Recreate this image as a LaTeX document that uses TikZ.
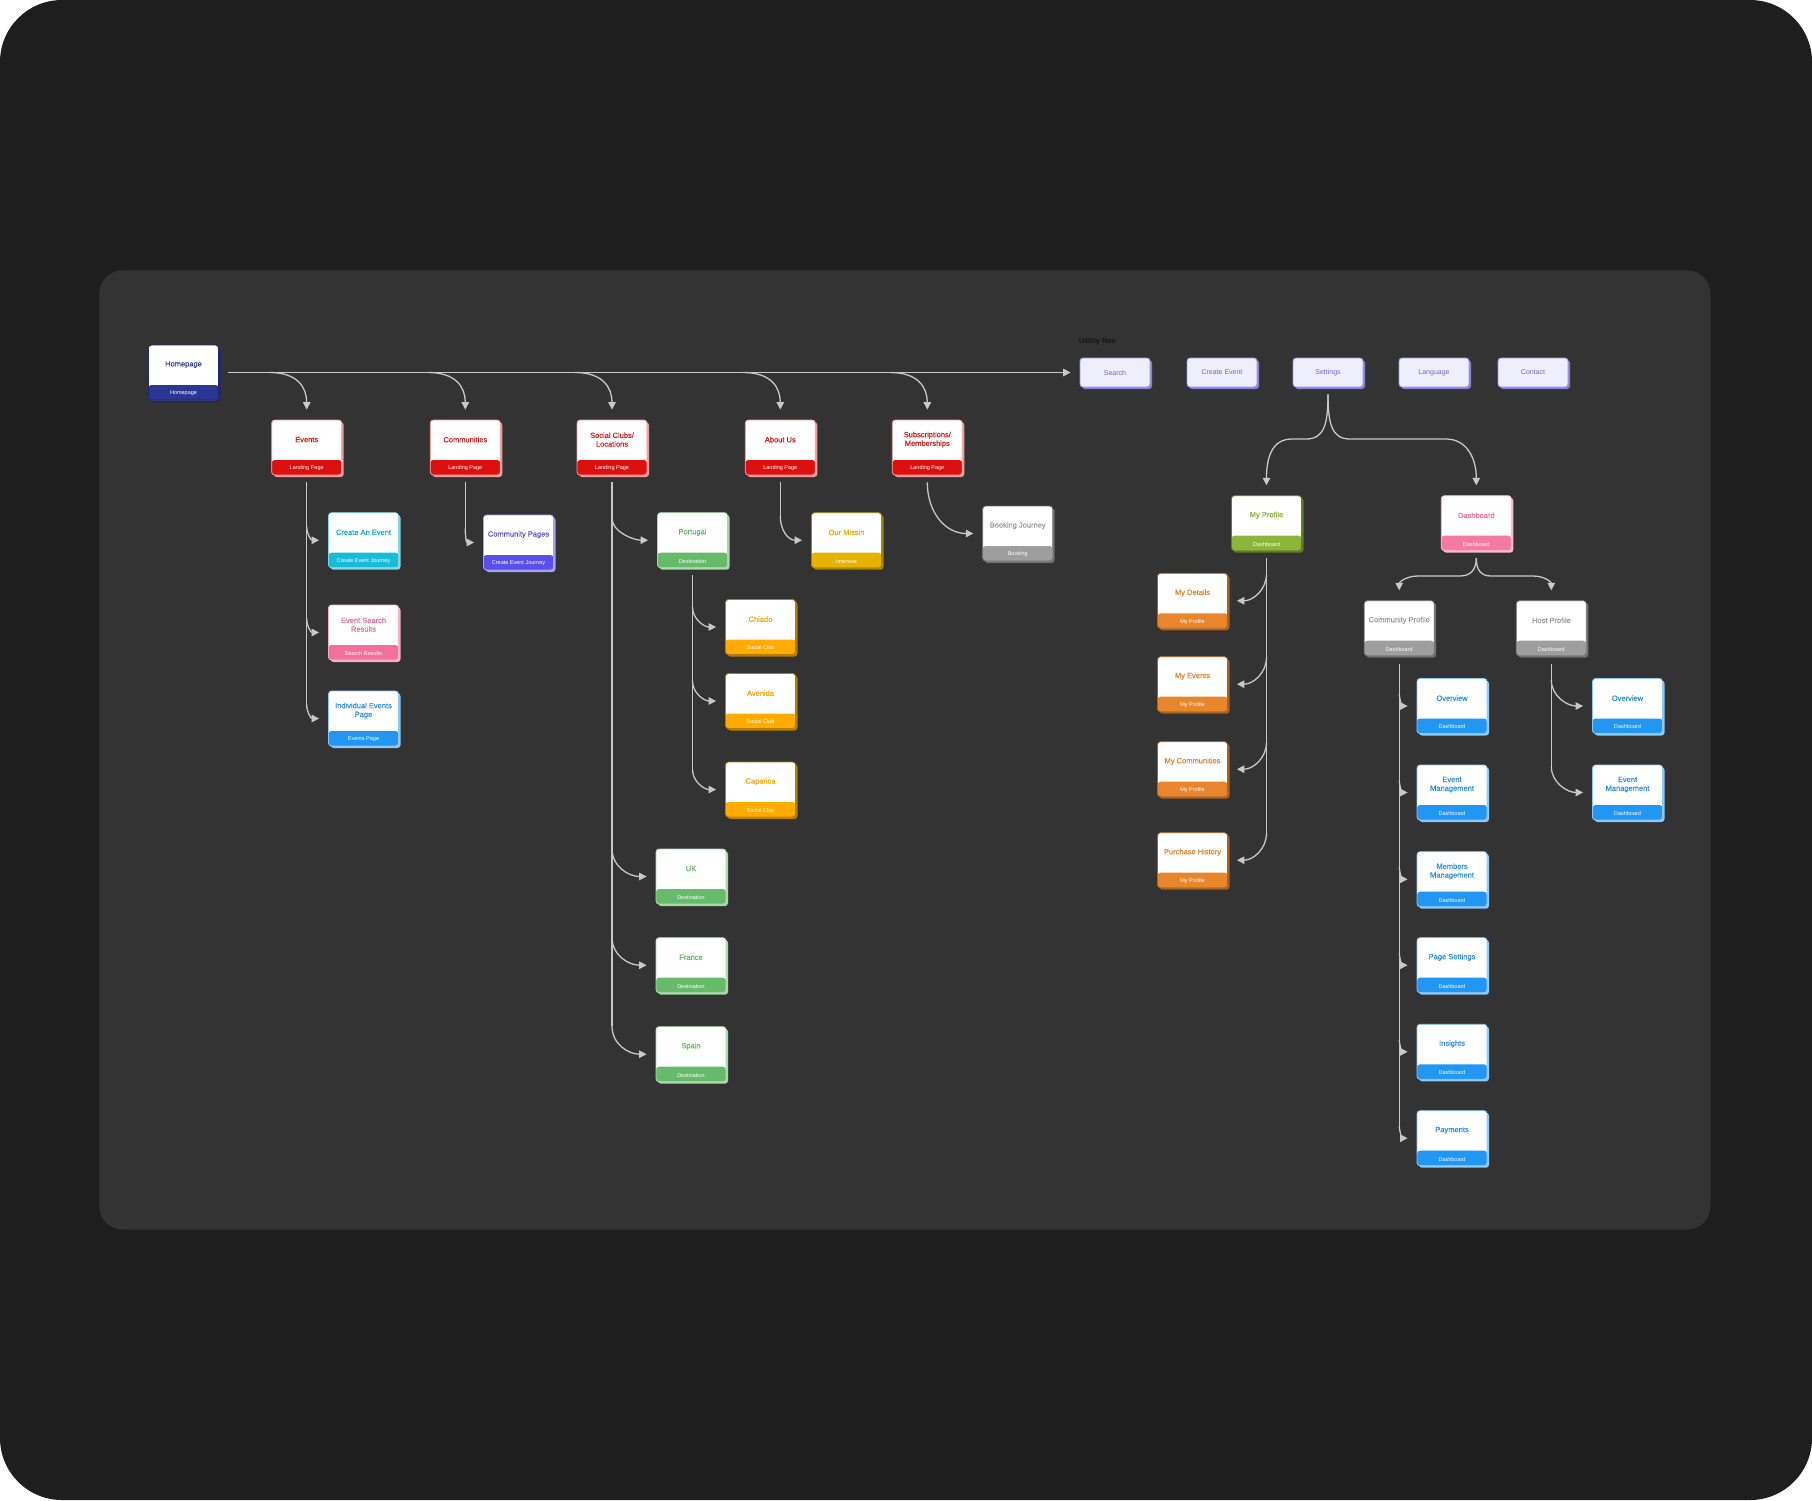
\documentclass[tikz,border=0pt]{standalone}
\usepackage{fontspec}
\setmainfont{Liberation Sans}
\newfontfamily\medfont[FakeBold=0.2]{Liberation Sans}
\usetikzlibrary{arrows.meta,shadows}
\definecolor{outerC}{HTML}{1E1E1E}
\definecolor{panelC}{HTML}{333333}
\definecolor{connC}{HTML}{C8C8C8}
% home
\definecolor{hmB}{HTML}{2B3592}\definecolor{hmT}{HTML}{2F3A8A}\definecolor{hmS}{HTML}{1E2870}
% red
\definecolor{rdB}{HTML}{DD1010}\definecolor{rdT}{HTML}{D01818}\definecolor{rdS}{HTML}{F29A9A}
% cyan
\definecolor{cyB}{HTML}{18BCD6}\definecolor{cyT}{HTML}{16A8C8}\definecolor{cyS}{HTML}{80D8E6}
% pink
\definecolor{pkB}{HTML}{F2709A}\definecolor{pkT}{HTML}{EE6A96}\definecolor{pkS}{HTML}{F7B0C8}
% blue
\definecolor{blB}{HTML}{2196F3}\definecolor{blT}{HTML}{2A8DE0}\definecolor{blS}{HTML}{8CC8F8}
% purple
\definecolor{puB}{HTML}{5A4FEA}\definecolor{puT}{HTML}{5B4FD8}\definecolor{puS}{HTML}{A7A0F0}
% green
\definecolor{grB}{HTML}{66BB6A}\definecolor{grT}{HTML}{5CB860}\definecolor{grS}{HTML}{A8D8AA}
% gold
\definecolor{gdB}{HTML}{E6B400}\definecolor{gdT}{HTML}{E0B000}\definecolor{gdS}{HTML}{A88400}
% amber
\definecolor{amB}{HTML}{FFAB00}\definecolor{amT}{HTML}{F5A500}\definecolor{amS}{HTML}{B87C00}
% gray
\definecolor{gyB}{HTML}{9E9E9E}\definecolor{gyT}{HTML}{9A9A9A}\definecolor{gyS}{HTML}{707070}
% olive
\definecolor{olB}{HTML}{8DB53A}\definecolor{olT}{HTML}{8CB03A}\definecolor{olS}{HTML}{607D20}
% dashboard pink
\definecolor{dpB}{HTML}{F47AA3}\definecolor{dpT}{HTML}{EE6C9A}\definecolor{dpS}{HTML}{F9B8CF}
% orange
\definecolor{orB}{HTML}{E8862E}\definecolor{orT}{HTML}{E0822C}\definecolor{orS}{HTML}{B0601A}
% utility
\definecolor{utF}{HTML}{EEEEFC}\definecolor{utD}{HTML}{9D95EA}\definecolor{utS}{HTML}{8A80DC}\definecolor{utT}{HTML}{6C64C8}
\definecolor{navT}{HTML}{151515}

\tikzset{
  conn/.style={draw=connC, line width=1.3pt, -{Triangle[length=7.5pt,width=7.5pt]}},
  trunk/.style={draw=connC, line width=1.3pt},
  pgbox/.style={rectangle, rounded corners=3pt, minimum width=70pt, minimum height=55pt,
    inner sep=0pt, fill=white, draw=#1S, line width=0.8pt,
    general shadow={shadow xshift=2pt, shadow yshift=-2pt, fill=#1S},
    path picture={\fill[#1B] ([yshift=15pt]path picture bounding box.south west) rectangle (path picture bounding box.south east);}},
  ttl/.style={text=#1T, font=\medfont\fontsize{7.5}{8.7}\selectfont, align=center, inner sep=0pt},
  bnd/.style={text=white, font=\fontsize{5.5}{6}\selectfont, inner sep=0pt},
  utl/.style={rectangle, rounded corners=3pt, minimum width=70pt, minimum height=29pt,
    fill=utF, draw=utD, line width=0.8pt,
    general shadow={shadow xshift=2pt, shadow yshift=-2pt, fill=utS},
    text=utT, font=\fontsize{7}{8}\selectfont},
  navlbl/.style={text=navT, font=\bfseries\fontsize{7.5}{8}\selectfont, inner sep=0pt, anchor=west},
}

\newcommand\pbox[6]{%
  \node[pgbox=#6] (#1) at (#2,#3+27.5) {};
  \node[ttl=#6] (#1-t) at ([yshift=-20pt]#1.north) {#4};
  \node[bnd] (#1-b) at ([yshift=7pt]#1.south) {#5};
}
% branch to the right: trunk node anchor, target node, rise, control
\newcommand\brR[4]{\draw[conn] ([yshift=#3pt]#1 |- #2.west) .. controls +(0,#4) and +(-#4,0) .. ([xshift=-9pt]#2.west);}
\newcommand\brL[4]{\draw[conn] ([yshift=#3pt]#1 |- #2.east) .. controls +(0,#4) and +(#4,0) .. ([xshift=9pt]#2.east);}
\newcommand\brD[3]{\draw[conn] (#1) .. controls +(#3,0) and +(0,-22) .. ([yshift=10pt]#2.north);}

\begin{document}
\begin{tikzpicture}[x=1pt,y=-1pt]
\useasboundingbox (0,0) rectangle (1812,1500);
\fill[white] (0,0) rectangle (1812,1500);
\fill[outerC, rounded corners=62pt] (0,0) rectangle (1812,1500);
\fill[panelC, rounded corners=23pt] (99.4,270.4) rectangle (1710.3,1229.5);

% ---------- nodes ----------
\pbox{home}{183.5}{345}{Homepage}{Homepage}{hm}
\pbox{events}{306.7}{420}{Events}{Landing Page}{rd}
\pbox{comm}{465.3}{420}{Communities}{Landing Page}{rd}
\pbox{social}{612}{420}{Social Clubs/\\Locations}{Landing Page}{rd}
\pbox{about}{780.3}{420}{About Us}{Landing Page}{rd}
\pbox{subs}{927.3}{420}{Subscriptions/\\Memberships}{Landing Page}{rd}
\pbox{cae}{363.5}{512.7}{Create An Event}{Create Event Journey}{cy}
\pbox{esr}{363.5}{605}{Event Search\\Results}{Search Results}{pk}
\pbox{iep}{363.5}{691}{Individual Events\\Page}{Events Page}{bl}
\pbox{cpages}{518.5}{515}{Community Pages}{Create Event Journey}{pu}
\pbox{portugal}{692.5}{512.7}{Portugal}{Destination}{gr}
\pbox{chiado}{760.5}{599.5}{Chiado}{Social Club}{am}
\pbox{avenida}{760.5}{673.5}{Avenida}{Social Club}{am}
\pbox{caparica}{760.5}{762}{Caparica}{Social Club}{am}
\pbox{uk}{691}{849}{UK}{Destination}{gr}
\pbox{france}{691}{937.7}{France}{Destination}{gr}
\pbox{spain}{691}{1026.7}{Spain}{Destination}{gr}
\pbox{mission}{846.5}{512.7}{Our Missin}{Imersive}{gd}
\pbox{booking}{1017.7}{506}{Booking Journey}{Booking}{gy}
\pbox{myprof}{1266.5}{495.7}{My Profile}{Dashboard}{ol}
\pbox{dash}{1476.3}{495.7}{Dashboard}{Dashboard}{dp}
\pbox{mydet}{1192.5}{573.3}{My Details}{My Profile}{or}
\pbox{myev}{1192.5}{656.7}{My Events}{My Profile}{or}
\pbox{mycom}{1192.5}{741.7}{My Communities}{My Profile}{or}
\pbox{purch}{1192.5}{832.7}{Purchase History}{My Profile}{or}
\pbox{cprof}{1399.2}{600.7}{Community Profile}{Dashboard}{gy}
\pbox{hprof}{1551.3}{600.7}{Host Profile}{Dashboard}{gy}
\pbox{cov}{1452}{678.5}{Overview}{Dashboard}{bl}
\pbox{cem}{1452}{765}{Event\\Management}{Dashboard}{bl}
\pbox{cmm}{1452}{851.7}{Members\\Management}{Dashboard}{bl}
\pbox{cps}{1452}{937.7}{Page Settings}{Dashboard}{bl}
\pbox{cin}{1452}{1024.3}{Insights}{Dashboard}{bl}
\pbox{cpay}{1452}{1110.7}{Payments}{Dashboard}{bl}
\pbox{hov}{1627.5}{678.5}{Overview}{Dashboard}{bl}
\pbox{hem}{1627.5}{765}{Event\\Management}{Dashboard}{bl}

\node[navlbl] (navlabel) at (1079,342) {Utility Nav};
\node[utl] (search) at (1115,372.5) {Search};
\node[utl] (cevent) at (1222,372.5) {Create Event};
\node[utl] (settings) at (1328,372.5) {Settings};
\node[utl] (lang) at (1434,372.5) {Language};
\node[utl] (contact) at (1533,372.5) {Contact};

% ---------- main line ----------
\draw[conn] ([xshift=9pt]home.east) -- ([xshift=-9pt]search.west);
\coordinate (j1) at (269.7,372.5);
\coordinate (j2) at (428.3,372.5);
\coordinate (j3) at (575,372.5);
\coordinate (j4) at (743.3,372.5);
\coordinate (j5) at (890.3,372.5);
\brD{j1}{events}{28}
\brD{j2}{comm}{28}
\brD{j3}{social}{28}
\brD{j4}{about}{28}
\brD{j5}{subs}{28}

% ---------- Events ----------
\draw[trunk] ([yshift=-7pt]events.south) -- ([yshift=14pt]events.south |- iep.west);
\brR{events.south}{cae}{14}{8}
\brR{events.south}{esr}{14}{8}
\brR{events.south}{iep}{14}{8}

% ---------- Communities ----------
\draw[trunk] ([yshift=-7pt]comm.south) -- ([yshift=14pt]comm.south |- cpages.west);
\brR{comm.south}{cpages}{14}{8}

% ---------- Social clubs ----------
\draw[trunk] ([yshift=-7pt]social.south) -- ([yshift=28pt]social.south |- spain.west);
\brR{social.south}{portugal}{22}{14}
\brR{social.south}{uk}{28}{18}
\brR{social.south}{france}{28}{18}
\brR{social.south}{spain}{28}{18}

\draw[trunk] ([yshift=-7pt]portugal.south) -- ([yshift=20pt]portugal.south |- caparica.west);
\brR{portugal.south}{chiado}{20}{12}
\brR{portugal.south}{avenida}{20}{12}
\brR{portugal.south}{caparica}{20}{12}

% ---------- About / Subscriptions ----------
\draw[trunk] ([yshift=-7pt]about.south) -- ([yshift=24pt]about.south |- mission.west);
\brR{about.south}{mission}{24}{14}
\draw[conn] ([yshift=-7pt]subs.south) .. controls +(0,30) and +(-28,0) .. ([xshift=-9pt]booking.west);

% ---------- Settings split ----------
\coordinate (sp) at ([yshift=-7pt]settings.south);
\draw[conn] (sp) .. controls +(0,30) and +(18,0) .. (1306,439) -- (1292,439)
  .. controls +(-20,0) and +(0,-28) .. ([yshift=10pt]myprof.north);
\draw[conn] (sp) .. controls +(0,30) and +(-18,0) .. (1350,439) -- (1446,439)
  .. controls +(20,0) and +(0,-28) .. ([yshift=10pt]dash.north);

% ---------- My Profile ----------
\draw[trunk] ([yshift=-7pt]myprof.south) -- ([yshift=27pt]myprof.south |- purch.east);
\brL{myprof.south}{mydet}{27}{16}
\brL{myprof.south}{myev}{27}{16}
\brL{myprof.south}{mycom}{27}{16}
\brL{myprof.south}{purch}{27}{16}

% ---------- Dashboard split ----------
\coordinate (dsp) at ([yshift=-7pt]dash.south);
\draw[conn] (dsp) .. controls +(0,12) and +(10,0) .. (1460,576) -- (1418,576)
  .. controls +(-12,0) and +(0,-8) .. ([yshift=10pt]cprof.north);
\draw[conn] (dsp) .. controls +(0,12) and +(-10,0) .. (1491,576) -- (1533,576)
  .. controls +(12,0) and +(0,-8) .. ([yshift=10pt]hprof.north);

% ---------- Community Profile ----------
\draw[trunk] ([yshift=-8pt]cprof.south) -- ([yshift=12pt]cprof.south |- cpay.west);
\brR{cprof.south}{cov}{12}{5}
\brR{cprof.south}{cem}{12}{5}
\brR{cprof.south}{cmm}{12}{5}
\brR{cprof.south}{cps}{12}{5}
\brR{cprof.south}{cin}{12}{5}
\brR{cprof.south}{cpay}{12}{5}

% ---------- Host Profile ----------
\draw[trunk] ([yshift=-8pt]hprof.south) -- ([yshift=26pt]hprof.south |- hem.west);
\brR{hprof.south}{hov}{26}{16}
\brR{hprof.south}{hem}{26}{16}
\end{tikzpicture}
\end{document}
